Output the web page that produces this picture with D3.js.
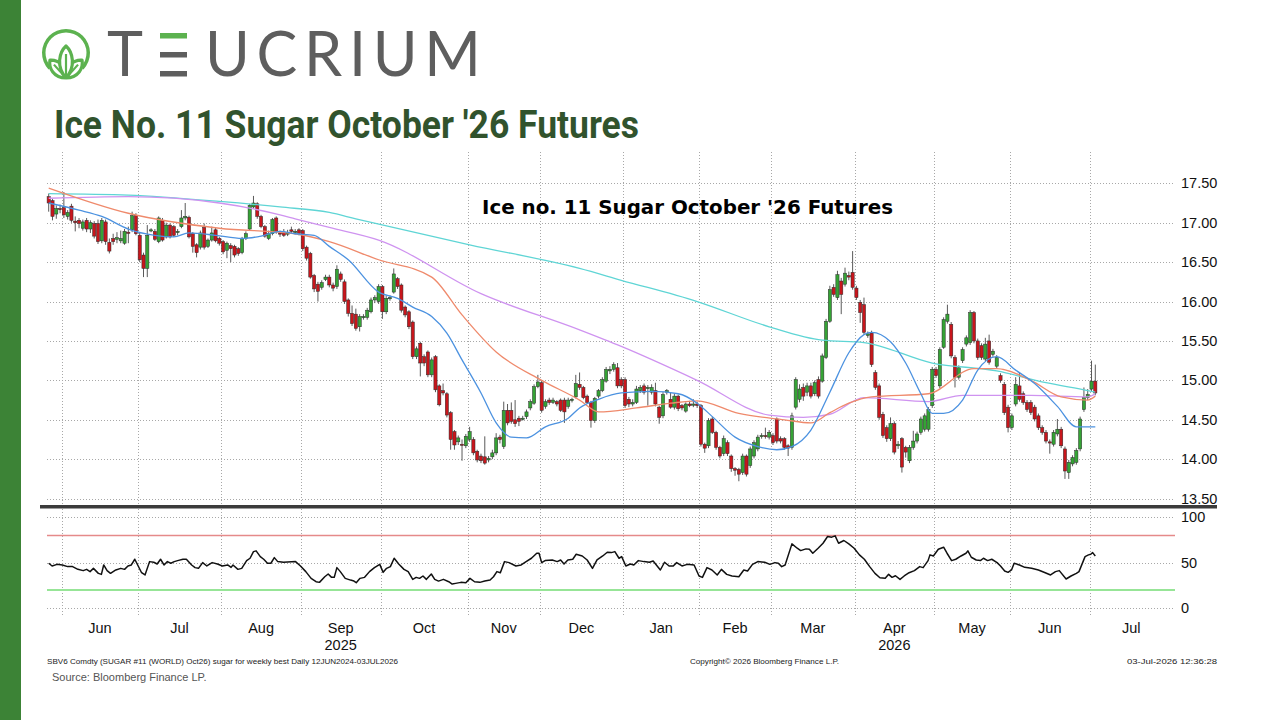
<!DOCTYPE html>
<html><head><meta charset="utf-8">
<script src="https://cdn.jsdelivr.net/npm/d3@7"></script>
<style>body{margin:0;background:#fff;}svg{display:block}</style>
</head><body>
<svg id="c" width="1280" height="720"></svg>
<script>
// ---------- DATA ----------
const open = [
17.33,17.28,17.11,17.18,17.19,17.08,17.21,17.02,17.03,16.93,
17.03,16.92,16.99,16.99,16.77,17.01,16.75,16.80,16.79,16.77,
16.74,16.88,16.91,17.09,16.84,16.59,16.42,16.90,16.89,16.76,
17.03,16.82,16.97,16.95,16.88,16.95,17.06,17.07,16.86,16.72,
16.69,16.94,16.70,16.78,16.91,16.80,16.76,16.65,16.71,16.70,
16.67,16.62,16.80,16.92,17.20,17.24,17.08,16.95,16.80,16.86,
17.06,16.87,16.88,16.86,16.91,16.88,16.91,16.90,16.69,16.61,
16.33,16.22,16.18,16.28,16.31,16.21,16.19,16.35,16.25,16.02,
15.85,15.84,15.68,15.80,15.80,15.87,16.02,16.00,16.19,15.87,
16.04,16.12,16.29,16.21,15.93,15.87,15.74,15.30,15.47,15.30,
15.36,15.07,15.30,14.93,14.87,14.83,14.59,14.35,14.22,14.19,
14.17,14.25,14.25,14.10,14.04,14.03,13.99,14.03,14.08,14.28,
14.16,14.62,14.62,14.50,14.52,14.51,14.54,14.65,14.71,14.92,
14.97,14.67,14.75,14.72,14.73,14.75,14.75,14.67,14.75,14.79,
14.95,14.91,14.80,14.72,14.49,14.80,14.87,14.99,15.12,15.14,
15.16,15.01,15.01,14.76,14.70,14.72,14.87,14.93,14.90,14.85,
14.87,14.66,14.55,14.85,14.76,14.66,14.80,14.68,14.61,14.70,
14.69,14.70,14.68,14.19,14.17,14.51,14.34,14.15,14.07,14.21,
14.04,13.88,13.87,13.83,14.04,13.92,14.04,14.13,14.29,14.30,
14.28,14.30,14.51,14.26,14.26,14.17,14.15,14.66,14.76,14.91,
14.85,14.93,14.83,15.01,14.99,15.29,15.75,16.18,16.05,16.26,
16.22,16.33,16.37,16.17,15.99,15.96,15.57,15.60,15.10,14.93,
14.57,14.40,14.26,14.45,14.17,14.26,14.15,13.98,14.15,14.23,
14.34,14.38,14.38,14.68,15.14,14.93,15.42,15.75,15.71,15.29,
15.04,15.25,15.46,15.48,15.86,15.50,15.44,15.27,15.50,15.33,
15.18,15.06,14.95,14.66,14.40,14.70,14.93,14.83,14.72,14.72,
14.66,14.55,14.40,14.34,14.22,14.19,14.32,14.38,14.13,13.83,
13.94,13.96,14.13,14.63,14.78,14.89,14.99];
const high = [
17.37,17.30,17.22,17.23,17.39,17.16,17.24,17.08,17.06,17.04,
17.06,17.03,17.02,17.04,17.06,17.04,16.80,16.86,16.88,16.90,
16.92,16.95,17.14,17.12,16.87,16.62,16.97,16.93,16.92,17.08,
17.06,17.00,16.99,16.97,16.92,17.16,17.25,17.09,16.88,16.74,
16.90,16.99,16.80,16.95,16.94,16.82,16.78,16.76,16.74,16.72,
16.69,16.82,16.89,17.24,17.34,17.26,17.10,16.97,16.90,17.06,
17.08,16.90,16.92,16.91,16.95,16.92,16.93,16.92,16.71,16.63,
16.35,16.25,16.27,16.34,16.34,16.24,16.46,16.38,16.28,16.04,
15.95,15.91,15.84,15.84,15.92,16.05,16.08,16.22,16.21,16.07,
16.08,16.42,16.31,16.23,15.95,15.89,15.76,15.43,15.49,15.33,
15.38,15.29,15.32,14.95,14.96,14.85,14.61,14.37,14.30,14.25,
14.32,14.41,14.28,14.12,14.07,14.29,14.04,14.12,14.33,14.31,
14.73,14.70,14.72,14.75,14.55,14.55,14.63,14.76,14.95,15.07,
15.00,14.76,14.78,14.78,14.75,14.77,14.78,14.78,14.78,15.07,
15.10,14.93,14.82,14.74,14.79,14.89,15.04,15.17,15.18,15.23,
15.22,15.04,15.04,14.79,14.76,14.93,14.94,14.96,14.94,14.95,
14.97,14.68,14.85,14.89,14.84,14.83,14.82,14.70,14.72,14.74,
14.76,14.73,14.70,14.21,14.52,14.54,14.36,14.17,14.30,14.24,
14.06,13.90,13.89,14.07,14.06,14.16,14.24,14.31,14.33,14.40,
14.37,14.33,14.53,14.29,14.28,14.19,14.59,15.04,14.95,14.96,
14.97,14.97,15.00,15.05,15.34,15.78,16.20,16.22,16.39,16.30,
16.43,16.38,16.64,16.20,16.02,16.05,15.62,15.63,15.13,14.96,
14.60,14.43,14.53,14.48,14.23,14.28,14.17,14.18,14.36,14.35,
14.54,14.58,14.66,15.17,15.17,15.42,15.80,15.96,15.74,15.32,
15.19,15.42,15.57,15.89,15.88,15.53,15.47,15.54,15.58,15.40,
15.32,15.09,14.98,14.69,14.58,15.04,15.10,14.86,14.75,14.75,
14.69,14.58,14.43,14.37,14.25,14.37,14.51,14.41,14.16,13.99,
14.05,14.14,14.54,14.91,14.89,15.25,15.20];
const low = [
17.14,17.03,17.05,17.12,17.06,17.04,17.00,16.89,16.93,16.90,
16.88,16.87,16.80,16.73,16.74,16.72,16.61,16.72,16.74,16.74,
16.72,16.74,16.88,16.84,16.50,16.31,16.31,16.88,16.77,16.74,
16.76,16.80,16.80,16.82,16.84,16.93,17.03,16.80,16.62,16.56,
16.66,16.66,16.68,16.76,16.75,16.71,16.60,16.55,16.50,16.56,
16.58,16.60,16.78,16.90,17.18,17.05,16.93,16.81,16.78,16.84,
16.86,16.82,16.82,16.83,16.87,16.85,16.84,16.64,16.52,16.29,
16.12,16.00,16.15,16.26,16.18,16.13,16.16,16.25,15.97,15.81,
15.69,15.63,15.62,15.77,15.77,15.85,15.98,15.97,15.78,15.84,
16.01,16.10,16.16,15.86,15.80,15.65,15.27,15.27,15.05,15.18,
15.04,15.04,14.85,14.67,14.81,14.53,14.12,14.12,14.18,13.98,
14.14,14.22,14.05,13.96,13.95,13.93,13.96,14.00,14.05,14.20,
14.13,14.43,14.45,14.41,14.42,14.49,14.51,14.62,14.69,14.90,
14.59,14.64,14.69,14.70,14.67,14.60,14.46,14.64,14.72,14.77,
14.88,14.76,14.70,14.40,14.46,14.77,14.85,14.97,15.08,15.11,
14.90,14.90,14.65,14.66,14.67,14.70,14.84,14.82,14.68,14.82,
14.67,14.45,14.52,14.82,14.64,14.63,14.61,14.62,14.59,14.66,
14.66,14.65,14.16,14.08,14.14,14.32,14.12,14.01,14.04,14.04,
13.84,13.79,13.72,13.80,13.78,13.89,14.01,14.10,14.26,14.26,
14.25,14.18,14.20,14.20,14.12,14.04,14.12,14.63,14.72,14.74,
14.80,14.77,14.80,14.77,14.97,15.27,15.73,16.06,16.02,15.84,
16.19,16.27,16.15,16.02,15.73,15.58,15.54,15.17,14.88,14.50,
14.27,14.22,14.23,14.06,14.13,13.83,14.02,13.95,14.12,14.20,
14.31,14.35,14.35,14.65,15.03,14.90,15.40,15.72,15.28,14.91,
15.01,15.22,15.43,15.45,15.47,15.26,15.26,15.24,15.20,15.30,
15.15,14.97,14.56,14.34,14.37,14.67,14.73,14.69,14.60,14.56,
14.48,14.37,14.31,14.20,14.07,14.16,14.29,14.14,13.75,13.75,
13.91,13.93,14.10,14.60,14.75,14.86,14.81];
const close = [
17.25,17.08,17.18,17.17,17.10,17.13,17.03,17.00,16.99,17.01,
16.92,17.00,16.83,16.76,17.03,16.76,16.64,16.76,16.81,16.80,
16.89,16.87,17.09,16.86,16.53,16.42,16.84,16.91,16.79,17.06,
16.78,16.97,16.82,16.84,16.89,17.06,17.08,16.82,16.70,16.62,
16.87,16.69,16.78,16.87,16.77,16.74,16.63,16.74,16.67,16.59,
16.61,16.80,16.86,17.22,17.25,17.08,16.95,16.83,16.86,17.04,
16.89,16.86,16.84,16.87,16.89,16.89,16.86,16.67,16.55,16.31,
16.16,16.13,16.24,16.31,16.21,16.17,16.41,16.28,16.00,15.85,
15.72,15.66,15.81,15.81,15.89,16.02,16.05,16.19,15.87,16.04,
16.05,16.35,16.19,15.89,15.83,15.68,15.30,15.40,15.22,15.22,
15.07,15.26,14.88,14.69,14.84,14.56,14.25,14.18,14.27,14.18,
14.29,14.35,14.08,13.99,13.98,13.95,14.01,14.08,14.27,14.25,
14.62,14.46,14.48,14.45,14.48,14.52,14.60,14.73,14.92,14.98,
14.62,14.73,14.72,14.75,14.70,14.62,14.60,14.75,14.76,14.96,
14.91,14.78,14.72,14.49,14.77,14.87,15.01,15.14,15.14,15.20,
14.93,14.93,14.68,14.70,14.72,14.89,14.91,14.85,14.91,14.91,
14.70,14.53,14.82,14.87,14.66,14.80,14.64,14.65,14.70,14.68,
14.70,14.68,14.19,14.14,14.49,14.34,14.15,14.04,14.26,14.07,
13.88,13.86,13.81,14.04,13.81,14.13,14.21,14.28,14.30,14.29,
14.34,14.21,14.23,14.23,14.15,14.14,14.55,15.01,14.89,14.80,
14.93,14.80,14.97,14.80,15.31,15.75,16.15,16.09,16.34,16.09,
16.36,16.31,16.18,16.05,15.86,15.61,15.59,15.20,14.91,14.53,
14.30,14.26,14.45,14.09,14.19,13.90,14.09,14.15,14.23,14.32,
14.51,14.55,14.63,15.14,15.06,15.39,15.77,15.84,15.31,15.04,
15.16,15.39,15.54,15.86,15.50,15.29,15.29,15.46,15.23,15.37,
15.29,15.00,14.59,14.40,14.55,14.95,14.76,14.72,14.63,14.59,
14.51,14.40,14.34,14.23,14.21,14.34,14.38,14.17,13.85,13.96,
14.02,14.11,14.51,14.78,14.82,14.99,14.84];

// moving averages (trading-day index, value)
const ma20Day = [0,8,14,21,28,33,37,44,51,56,61,65,70,74,79,87,92,96,101,105,109,114,118,122,126,131,137,140,145,151,159,166,171,175,181,187,192,196,201,206,211,215,217,222,226,230,233,236,241,245,250,255,260,266,271,276];
const ma20Val = [17.25,17.16,17.08,16.92,16.84,16.82,16.87,16.84,16.80,16.83,16.89,16.86,16.84,16.70,16.53,16.12,16.04,15.93,15.81,15.60,15.26,14.84,14.46,14.28,14.27,14.41,14.52,14.65,14.76,14.84,14.86,14.83,14.71,14.54,14.28,14.16,14.12,14.16,14.37,14.85,15.35,15.58,15.61,15.49,15.22,14.83,14.58,14.58,14.75,15.13,15.30,15.13,14.96,14.67,14.41,14.41];
const ma50Day = [0,21,45,65,74,87,101,109,118,130,140,145,155,164,171,182,194,201,206,211,217,232,244,250,259,267,274,276];
const ma50Val = [17.44,17.12,16.93,16.86,16.76,16.53,16.31,15.83,15.36,15.00,14.75,14.60,14.65,14.71,14.74,14.58,14.50,14.46,14.59,14.71,14.79,14.83,15.15,15.15,15.00,14.79,14.75,14.80];
const ma100Day = [0,21,45,61,65,74,87,114,140,151,171,190,199,206,215,232,241,259,274,276];
const ma100Val = [17.31,17.33,17.25,17.10,17.05,16.94,16.78,16.10,15.64,15.43,15.00,14.56,14.53,14.57,14.78,14.73,14.81,14.81,14.79,14.83];
const ma200Day = [0,21,45,61,74,81,111,140,151,171,190,204,215,233,250,263,274,276];
const ma200Val = [17.37,17.35,17.27,17.20,17.13,17.05,16.72,16.42,16.27,16.00,15.68,15.51,15.48,15.22,15.12,14.97,14.87,14.85];

// RSI (trading-day index, value)
const rsiDay = [0,0.9,2.2,3.6,5.0,6.3,7.7,9.1,10.0,10.9,11.8,13.1,13.9,14.5,15.4,16.3,17.7,19.0,20.0,20.9,21.8,22.7,23.6,24.5,25.4,26.6,27.7,28.6,29.5,30.4,31.3,32.2,33.1,34.0,35.4,36.3,37.7,38.6,39.5,40.6,41.7,43.1,44.5,45.8,47.2,48.1,48.6,49.9,50.9,52.2,53.1,54.0,54.7,55.8,56.7,57.7,58.6,59.5,60.4,61.9,65.1,66.4,67.8,69.2,70.5,71.4,72.8,73.7,74.6,75.3,76.0,76.9,78.2,79.6,80.5,81.1,82.1,83.3,84.6,85.9,87.3,88.2,89.1,90.1,91.1,92.3,93.7,94.8,96.0,96.9,97.8,98.7,99.6,100.9,101.8,102.8,104.1,105.5,106.4,107.3,108.7,110.0,111.1,112.3,113.7,115.0,116.4,117.3,118.2,119.1,120.2,121.4,123.2,124.6,125.9,127.3,128.7,129.3,130.0,130.9,132.8,134.1,135.0,135.9,136.9,138.2,139.1,140.7,142.0,143.4,144.6,146.1,147.3,148.4,149.3,150.4,151.1,152.2,153.4,154.3,155.5,157.0,158.4,159.4,161.3,162.4,163.6,164.7,165.6,167.0,168.4,170.2,171.5,172.4,173.6,174.9,176.3,177.4,178.8,180.2,182.0,183.3,184.3,185.6,187.0,188.8,190.2,191.5,192.4,193.3,194.2,196.0,197.4,198.3,199.7,200.6,201.5,202.9,204.2,205.4,206.5,207.4,208.3,209.7,211.0,212.4,213.8,215.1,216.5,217.9,219.2,220.6,221.5,222.4,223.3,224.5,225.6,226.9,228.3,229.7,230.6,231.9,232.4,233.3,234.6,236.0,236.9,238.1,239.2,240.6,241.9,242.4,243.3,244.6,245.7,246.5,247.6,248.7,250.1,251.0,252.1,253.0,253.9,254.6,256.0,257.4,259.2,261.0,262.8,264.2,265.5,266.5,268.3,269.6,271.0,271.7,273.3,274.2,274.8,275.3,276];
const rsiVal = [49.5,46.5,48.3,47.6,45.8,45.8,42.8,41.4,42.8,40.3,43.9,38.4,37.3,47.6,41.4,38.4,42.1,43.9,42.8,46.5,47.6,53.9,46.5,39.1,36.6,51.3,50.6,48.7,53.9,47.6,51.3,49.5,51.3,52.4,53.9,53.9,47.6,44.7,43.9,50.2,46.5,50.2,48.7,46.5,47.6,45.0,47.6,42.8,43.9,52.4,55.0,62.3,63.1,56.8,53.9,49.5,49.5,55.7,51.3,50.6,51.3,46.5,40.3,32.9,29.2,28.5,34.7,37.7,34.0,34.0,44.7,40.3,32.9,31.0,29.9,28.1,32.9,34.0,40.3,44.7,48.3,39.5,43.9,45.8,55.0,48.7,42.8,40.3,31.8,34.0,32.9,35.5,31.8,37.7,31.8,29.9,31.8,29.2,26.6,27.4,28.5,28.1,32.9,29.2,28.5,29.9,31.0,34.7,40.3,39.1,51.3,50.2,46.5,47.6,51.3,55.0,60.5,60.5,50.2,52.4,53.1,51.3,53.1,48.7,53.1,53.9,59.4,57.5,53.1,43.9,53.1,57.5,61.6,61.2,62.3,55.0,56.8,46.5,48.7,47.6,52.4,51.3,50.6,52.0,42.1,50.6,46.5,46.5,50.2,46.5,48.3,47.6,35.5,34.0,44.7,42.1,36.6,42.8,37.3,35.5,34.7,42.1,41.0,48.3,51.3,50.6,48.3,50.2,49.5,45.8,47.6,70.8,66.0,63.4,65.3,64.9,60.5,66.0,71.5,78.9,78.2,79.6,71.5,74.5,70.8,66.0,58.7,53.9,45.8,38.4,33.6,32.9,37.3,34.0,35.8,31.8,35.5,39.1,41.4,45.8,44.7,52.4,58.7,57.5,64.9,67.1,60.5,52.4,53.9,57.5,60.5,63.1,56.1,53.1,52.4,55.0,52.4,53.9,50.2,46.5,41.0,39.5,42.1,49.5,47.6,45.0,43.9,42.1,39.1,36.6,40.3,41.4,32.2,35.5,38.4,40.3,56.8,58.7,59.4,61.2,57.5];

const priceTicks = [13.5,14.0,14.5,15.0,15.5,16.0,16.5,17.0,17.5];
const rsiTicks = [0,50,100];
const rsiBands = [80,20];
const monthLabels = ["Jun","Jul","Aug","Sep","Oct","Nov","Dec","Jan","Feb","Mar","Apr","May","Jun","Jul"];
const monthStartDay = [4,24,46,67,88,111,130,152,172,191,213,234,254,275];
const yearLabels = ["2025","2026"];
const yearMonthIdx = [3,10];

// ---------- DRAW ----------
const svg = d3.select("#c");
const N = close.length;
const plotL = 47, plotR = 1173;
const x = d3.scaleLinear().domain([0, N - 1]).range([48.7, 1095.3]);
const y = d3.scaleLinear().domain([13.5, 17.5]).range([498.6, 183.3]);
const yr = d3.scaleLinear().domain([0, 100]).range([608.3, 517.3]);
const step = x(1) - x(0);

// left bar
svg.append("rect").attr("x",0).attr("y",0).attr("width",21).attr("height",720).attr("fill","#3c8336");

// logo
const lg = svg.append("g");
const logoGreen = "#5cb24f";
lg.append("path").attr("transform","translate(66,53)")
  .attr("d", d3.arc()({innerRadius:20.5, outerRadius:24, startAngle:-Math.PI*0.74, endAngle:Math.PI*0.74}))
  .attr("fill", logoGreen);
const leaf = (cx, cy, ang, len, w) => {
  const p = d3.path();
  p.moveTo(0,0);
  p.bezierCurveTo(-w, -len*0.35, -w*0.7, -len*0.8, 0, -len);
  p.bezierCurveTo(w*0.7, -len*0.8, w, -len*0.35, 0, 0);
  lg.append("path").attr("d", p.toString())
    .attr("transform", `translate(${cx},${cy}) rotate(${ang})`)
    .attr("fill","#fff").attr("stroke", logoGreen).attr("stroke-width",3.2).attr("stroke-linejoin","round");
  lg.append("line").attr("x1",0).attr("y1",-2).attr("x2",0).attr("y2",-len*0.75)
    .attr("transform", `translate(${cx},${cy}) rotate(${ang})`)
    .attr("stroke", logoGreen).attr("stroke-width",2.2);
};
leaf(66,78,-42,24,9);
leaf(66,78,42,24,9);
leaf(66,78,0,32,10);

lg.append("text").attr("x",107).attr("y",76).text("T")
  .attr("font-family","Lato").attr("font-size",61).attr("fill","#5e5e5e");
[[33,"#5cb24f"],[52,"#5e5e5e"],[71,"#5e5e5e"]].forEach(([yy,c]) =>
  lg.append("rect").attr("x",160).attr("y",yy).attr("width",27).attr("height",5.5).attr("fill",c));
lg.append("text").attr("x",205).attr("y",76).text("UCRIUM")
  .attr("font-family","Lato").attr("font-size",61).attr("fill","#5e5e5e")
  .attr("textLength",276).attr("lengthAdjust","spacing");

// title
svg.append("text").attr("x",54).attr("y",138).text("Ice No. 11 Sugar October '26 Futures")
  .attr("font-family","Roboto").attr("font-weight",700).attr("font-size",39).attr("fill","#31532d")
  .attr("textLength",585).attr("lengthAdjust","spacingAndGlyphs");

// grid
const grid = svg.append("g").attr("stroke","#a8a8a8").attr("stroke-width",1).attr("stroke-dasharray","1,2").attr("fill","none");
monthStartDay.forEach(d => {
  const gx = Math.round(x(d) - step/2) + 0.5;
  grid.append("line").attr("x1",gx).attr("x2",gx).attr("y1",152).attr("y2",617);
});
priceTicks.forEach(t => grid.append("line").attr("x1",plotL).attr("x2",plotR).attr("y1",Math.round(y(t))+0.5).attr("y2",Math.round(y(t))+0.5));
rsiTicks.forEach(t => grid.append("line").attr("x1",plotL).attr("x2",plotR).attr("y1",Math.round(yr(t))+0.5).attr("y2",Math.round(yr(t))+0.5));

// price axis labels
const axFont = "Liberation Sans";
priceTicks.forEach(t => svg.append("text").attr("x",1181).attr("y",y(t)+5).text(d3.format(".2f")(t))
  .attr("font-family",axFont).attr("font-size",14.5).attr("fill","#111"));
rsiTicks.forEach(t => svg.append("text").attr("x",1181).attr("y",yr(t)+5).text(t)
  .attr("font-family",axFont).attr("font-size",14.5).attr("fill","#111"));

// inner title
svg.append("text").attr("x",482).attr("y",214).text("Ice no. 11 Sugar October '26 Futures")
  .attr("font-family","DejaVu Sans").attr("font-weight",700).attr("font-size",19).attr("fill","#000")
  .attr("textLength",411).attr("lengthAdjust","spacingAndGlyphs");

// candles
const cg = svg.append("g");
d3.range(N).forEach(i => {
  const cx = x(i);
  const up = close[i] >= open[i];
  cg.append("line").attr("x1",cx).attr("x2",cx).attr("y1",y(high[i])).attr("y2",y(low[i]))
    .attr("stroke","#5a5a5a").attr("stroke-width",1);
  const top = y(Math.max(open[i],close[i])), bot = y(Math.min(open[i],close[i]));
  cg.append("rect").attr("x",cx-1.6).attr("y",top).attr("width",3.2).attr("height",Math.max(1.2,bot-top))
    .attr("fill", up ? "#35a335" : "#c8161c").attr("stroke","#2a2a2a").attr("stroke-width",0.5);
});

// moving averages
const maLine = d3.line().x(d => x(d[0])).y(d => y(d[1])).curve(d3.curveMonotoneX);
const drawMA = (days, vals, color) => svg.append("path")
  .attr("d", maLine(days.map((d,i)=>[d, vals[i]]))).attr("fill","none")
  .attr("stroke",color).attr("stroke-width",1.3);
drawMA(ma200Day, ma200Val, "#5fd5d5");
drawMA(ma100Day, ma100Val, "#cf93f0");
drawMA(ma50Day, ma50Val, "#ef8a6c");
drawMA(ma20Day, ma20Val, "#4c92e0");

// separator
svg.append("rect").attr("x",40).attr("y",505).attr("width",1177).attr("height",3.5).attr("fill","#3b3b3b");

// RSI pane
svg.append("line").attr("x1",plotL).attr("x2",1175).attr("y1",yr(rsiBands[0])).attr("y2",yr(rsiBands[0]))
  .attr("stroke","#e58a8a").attr("stroke-width",1.5);
svg.append("line").attr("x1",plotL).attr("x2",1175).attr("y1",yr(rsiBands[1])).attr("y2",yr(rsiBands[1]))
  .attr("stroke","#97e597").attr("stroke-width",2);
svg.append("path").attr("d", d3.line().x(d=>x(d[0])).y(d=>yr(d[1]))(rsiDay.map((d,i)=>[d, rsiVal[i]])))
  .attr("fill","none").attr("stroke","#111").attr("stroke-width",1.5).attr("stroke-linejoin","round");

// month labels
monthLabels.forEach((m,i) => {
  const a = x(monthStartDay[i]) - step/2;
  const b = i < monthLabels.length - 1 ? x(monthStartDay[i+1]) - step/2 : plotR;
  svg.append("text").attr("x",(a+b)/2).attr("y",633).attr("text-anchor","middle").text(m)
    .attr("font-family",axFont).attr("font-size",14.5).attr("fill","#111");
});
yearLabels.forEach((yl,j) => {
  const i = yearMonthIdx[j];
  const a = x(monthStartDay[i]) - step/2, b = x(monthStartDay[i+1]) - step/2;
  svg.append("text").attr("x",(a+b)/2).attr("y",650).attr("text-anchor","middle").text(yl)
    .attr("font-family",axFont).attr("font-size",14.5).attr("fill","#111");
});

// footer
svg.append("text").attr("x",47).attr("y",664).text("SBV6 Comdty (SUGAR #11 (WORLD) Oct26) sugar for weekly best Daily 12JUN2024-03JUL2026")
  .attr("font-family",axFont).attr("font-size",8).attr("fill","#222").attr("textLength",351).attr("lengthAdjust","spacingAndGlyphs");
svg.append("text").attr("x",690).attr("y",664).text("Copyright\u00A9 2026 Bloomberg Finance L.P.")
  .attr("font-family",axFont).attr("font-size",8).attr("fill","#222").attr("textLength",149).attr("lengthAdjust","spacingAndGlyphs");
svg.append("text").attr("x",1127).attr("y",664).text("03-Jul-2026 12:36:28")
  .attr("font-family",axFont).attr("font-size",8).attr("fill","#222").attr("textLength",90).attr("lengthAdjust","spacingAndGlyphs");
svg.append("text").attr("x",52).attr("y",681).text("Source: Bloomberg Finance LP.")
  .attr("font-family",axFont).attr("font-size",11).attr("fill","#555");
</script>
</body></html>
